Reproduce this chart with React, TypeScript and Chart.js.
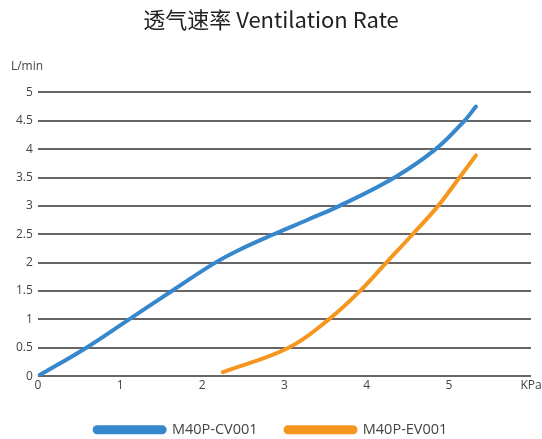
import React, { useEffect, useRef } from "react";
import { Chart, registerables } from "chart.js";

Chart.register(...registerables);

const titleText = "透气速率 Ventilation Rate";
const seriesNames = ["M40P-CV001", "M40P-EV001"];
const cvX = [0, 0.59, 1.11, 1.63, 2.16, 2.5, 2.87, 3.29, 3.67, 4.34, 4.84, 5.19, 5.33];
const cvY = [0, 0.5, 1.0, 1.5, 2.0, 2.26, 2.5, 2.76, 3.0, 3.5, 4.0, 4.5, 4.75];
const evX = [2.25, 3.05, 3.54, 3.92, 4.24, 4.56, 4.87, 5.13, 5.33];
const evY = [0.07, 0.5, 1.0, 1.5, 2.0, 2.5, 3.0, 3.5, 3.89];
const xUnit = "KPa";
const yUnit = "L/min";

const FONT = "'Open Sans', 'Noto Sans', sans-serif";

export default function App() {
  const ref = useRef<HTMLCanvasElement>(null);
  useEffect(() => {
    document.body.style.margin = "0";
    const unitPlugin = {
      id: "unitLabel",
      afterDraw(chart: any) {
        const { ctx, chartArea } = chart;
        ctx.save();
        ctx.fillStyle = "#444";
        ctx.font = `12px ${FONT}`;
        ctx.textAlign = "left";
        ctx.textBaseline = "middle";
        ctx.fillText(yUnit, chartArea.left - 27, chartArea.top - 26);
        ctx.restore();
      },
    };
    const chart = new Chart(ref.current!, {
      type: "line",
      data: {
        datasets: [
          {
            label: seriesNames[0],
            data: cvX.map((x, i) => ({ x, y: cvY[i] })),
            borderColor: "#3787cc",
            backgroundColor: "#3787cc",
            borderWidth: 4,
            pointRadius: 0,
            tension: 0.4,
            borderCapStyle: "round",
          },
          {
            label: seriesNames[1],
            data: evX.map((x, i) => ({ x, y: evY[i] })),
            borderColor: "#f5971f",
            backgroundColor: "#f5971f",
            borderWidth: 4,
            pointRadius: 0,
            tension: 0.4,
            borderCapStyle: "round",
          },
        ],
      },
      options: {
        animation: false,
        responsive: true,
        maintainAspectRatio: false,
        layout: { padding: { left: 11, right: 11, top: 0, bottom: -8 } },
        scales: {
          x: {
            type: "linear",
            min: 0,
            max: 6,
            grid: { display: false, drawTicks: false },
            border: { display: false },
            afterFit: (scale: any) => {
              scale.paddingRight = 0;
            },
            ticks: {
              stepSize: 1,
              color: "#444",
              font: { size: 12, family: FONT },
              padding: 2,
              callback: (v: any) => (v === 6 ? xUnit : String(v)),
            },
          },
          y: {
            min: 0,
            max: 5,
            grid: { color: "#666", lineWidth: 2, drawTicks: false },
            border: { display: false },
            ticks: {
              stepSize: 0.5,
              color: "#444",
              font: { size: 12, family: FONT },
              padding: 5,
              callback: (v: any) => String(Number(v)),
            },
          },
        },
        plugins: {
          title: {
            display: true,
            text: titleText,
            color: "#222",
            font: { size: 22, family: "'Noto Sans CJK SC', sans-serif", weight: "normal" },
            padding: { top: 6, bottom: 60 },
          },
          legend: {
            position: "bottom",
            labels: {
              boxWidth: 70,
              boxHeight: 5,
              useBorderRadius: true,
              borderRadius: 2.5,
              color: "#444",
              font: { size: 14.5, family: FONT },
              padding: 28,
            },
          },
          tooltip: { enabled: false },
        },
      } as any,
      plugins: [unitPlugin],
    });
    return () => chart.destroy();
  }, []);
  return (
    <div style={{ width: 542, height: 439 }}>
      <canvas ref={ref} />
    </div>
  );
}
